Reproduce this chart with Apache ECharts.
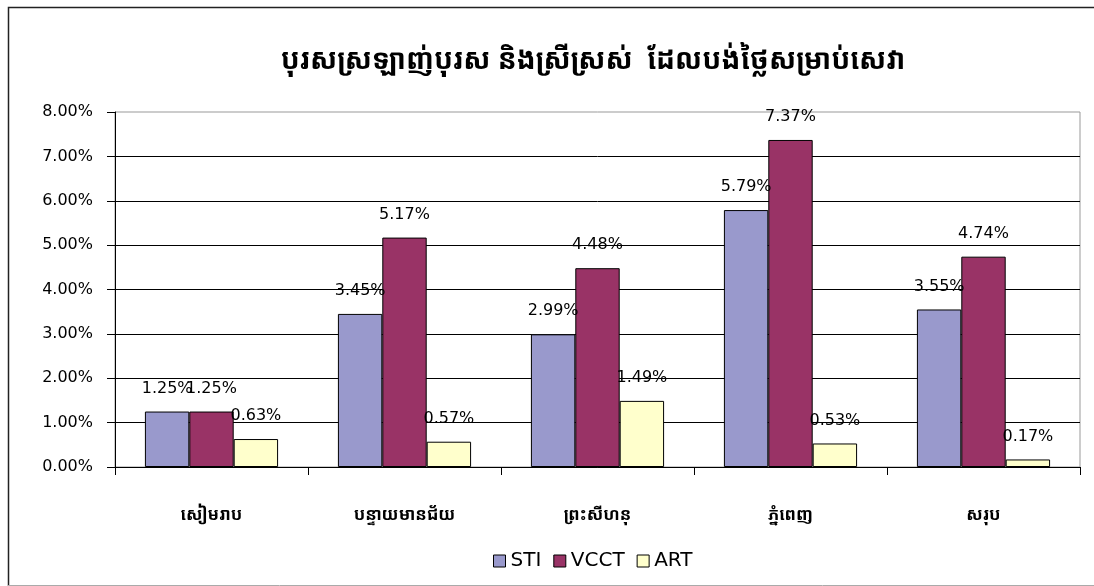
<!DOCTYPE html>
<html>
<head>
<meta charset="utf-8">
<script src="https://cdn.jsdelivr.net/npm/echarts@6/dist/echarts.min.js"></script>
<style>
  html, body { margin: 0; padding: 0; background: #fff; }
  #chart { width: 1094px; height: 586px; }
</style>
</head>
<body>
<div id="chart"></div>
<script>
// Share of MSM and sex workers paying for services, by province (%)
const titleText = 'បុរសស្រឡាញ់បុរស និងស្រីស្រស់  ដែលបង់ថ្លៃសម្រាប់សេវា';
const categories = ['សៀមរាប', 'បន្ទាយមានជ័យ', 'ព្រះសីហនុ', 'ភ្នំពេញ', 'សរុប'];
const seriesNames = ['STI', 'VCCT', 'ART'];
const stiValues = [1.25, 3.45, 2.99, 5.79, 3.55];
const vcctValues = [1.25, 5.17, 4.48, 7.37, 4.74];
const artValues = [0.63, 0.57, 1.49, 0.53, 0.17];
const seriesColors = ['#9999cc', '#993366', '#ffffcc'];

const khmerFont = '"Noto Sans Khmer", "Khmer OS", "Khmer OS System", "DejaVu Sans", sans-serif';
const numFont = '"DejaVu Sans", "Liberation Sans", Arial, sans-serif';

const chart = echarts.init(document.getElementById('chart'), null, { renderer: 'canvas' });

function barSeries(name, values, color) {
  return {
    name: name,
    type: 'bar',
    data: values,
    barGap: '0%',
    barCategoryGap: '31%',
    itemStyle: { color: color, borderColor: '#000', borderWidth: 1 },
    label: {
      show: true,
      position: 'top',
      distance: 15,
      color: '#000',
      fontFamily: numFont,
      fontSize: 16,
      formatter: p => p.value.toFixed(2) + '%'
    }
  };
}

chart.setOption({
  animation: false,
  backgroundColor: '#fff',
  title: {
    text: titleText,
    left: 588,
    textAlign: 'center',
    top: 42,
    textStyle: { fontFamily: khmerFont, fontSize: 28, fontWeight: 'bold', color: '#000' }
  },
  legend: {
    data: seriesNames,
    bottom: 10,
    left: 488,
    itemWidth: 12,
    itemHeight: 12,
    itemGap: 12,
    icon: 'rect',
    textStyle: { fontFamily: numFont, fontSize: 20, color: '#000' },
    itemStyle: { borderColor: '#000', borderWidth: 1 }
  },
  grid: {
    left: 115, right: 14, top: 112, bottom: 119,
    show: true, borderColor: '#999', borderWidth: 1, backgroundColor: 'transparent'
  },
  xAxis: {
    type: 'category',
    data: categories,
    axisLine: { lineStyle: { color: '#000', width: 1 } },
    axisTick: { show: true, length: 8, alignWithLabel: false, lineStyle: { color: '#000' } },
    axisLabel: { margin: 40, color: '#000', fontFamily: khmerFont, fontSize: 17, fontWeight: 'bold' }
  },
  yAxis: {
    type: 'value',
    min: 0,
    max: 8,
    interval: 1,
    axisLine: { show: true, lineStyle: { color: '#000', width: 1 } },
    axisTick: { show: true, length: 8, lineStyle: { color: '#000' } },
    axisLabel: {
      margin: 22,
      color: '#000',
      fontFamily: numFont,
      fontSize: 16,
      formatter: v => v.toFixed(2) + '%'
    },
    splitLine: { show: true, showMaxLine: false, lineStyle: { color: '#000', width: 1 } }
  },
  series: [
    barSeries(seriesNames[0], stiValues, seriesColors[0]),
    barSeries(seriesNames[1], vcctValues, seriesColors[1]),
    barSeries(seriesNames[2], artValues, seriesColors[2])
  ],
  graphic: [
    { type: 'polyline', shape: { points: [[8.5, 586], [8.5, 7.5], [1094, 7.5]] },
      style: { stroke: '#222', lineWidth: 1.5, fill: null }, silent: true },
    { type: 'line', shape: { x1: 8, y1: 585.5, x2: 1094, y2: 585.5 },
      style: { stroke: '#aaa', lineWidth: 1 }, silent: true }
  ]
});
</script>
</body>
</html>
